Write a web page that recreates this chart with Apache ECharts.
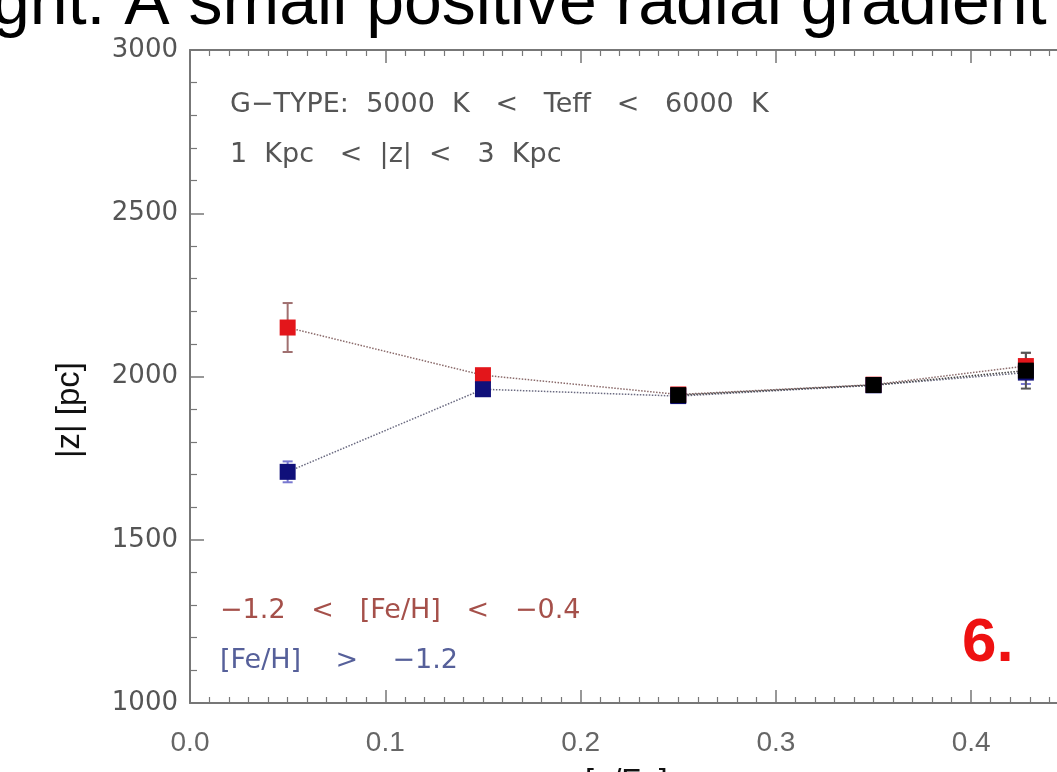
<!DOCTYPE html>
<html>
<head>
<meta charset="utf-8">
<style>html,body{margin:0;padding:0;background:#fff;}#c{width:1057px;height:772px;}</style>
<script src="https://cdn.jsdelivr.net/npm/echarts@6/dist/echarts.min.js"></script>
</head>
<body>
<div id="c"></div>
<script>
// ---- data ----
const xBins = [0.05, 0.15, 0.25, 0.35, 0.428];
const redZ = [2150, 2004, 1945, 1975, 2032];
const redErr = [75, 15, 12, 12, 40];
const blueZ = [1708, 1961, 1940, 1973, 2012];
const blueErr = [32, 14, 12, 12, 35];
const blackX = [0.25, 0.35, 0.428];
const blackZ = [1943, 1974, 2018];
const blackErr = [14, 12, 55];
const xTicks = [0.0, 0.1, 0.2, 0.3, 0.4, 0.5];
const yTicks = [1000, 1500, 2000, 2500, 3000];
const titleText = 'ght: A small positive radial gradient';
const yName = '|z| [pc]';
const xName = '[\u03b1/Fe]';
const note1 = 'G\u2212TYPE:  5000  K   <   Teff   <   6000  K';
const note2 = '1  Kpc   <  |z|  <   3  Kpc';
const noteRed = '\u22121.2   <   [Fe/H]   <   \u22120.4';
const noteBlue = '[Fe/H]    >    \u22121.2';
const panelNo = '6.';

const zip = (xs, ys) => xs.map((x, i) => [x, ys[i]]);
const zip3 = (xs, ys, es) => xs.map((x, i) => [x, ys[i], es[i]]);

function errRender(color) {
  return function (params, api) {
    const x = api.value(0), y = api.value(1), e = api.value(2);
    const t = api.coord([x, y + e]), b = api.coord([x, y - e]);
    const hw = 5;
    const st = { stroke: color, lineWidth: 2 };
    return {
      type: 'group',
      children: [
        { type: 'line', shape: { x1: t[0], y1: t[1], x2: b[0], y2: b[1] }, style: st },
        { type: 'line', shape: { x1: t[0] - hw, y1: t[1], x2: t[0] + hw, y2: t[1] }, style: st },
        { type: 'line', shape: { x1: b[0] - hw, y1: b[1], x2: b[0] + hw, y2: b[1] }, style: st }
      ]
    };
  };
}

const axisCol = '#777';
const chart = echarts.init(document.getElementById('c'), null, { renderer: 'canvas' });
const xBase = {
  type: 'value', min: xTicks[0], max: xTicks[xTicks.length - 1], interval: 0.1,
  axisLine: { show: true, onZero: false, lineStyle: { color: axisCol, width: 2 } },
  axisTick: { show: true, inside: true, length: 13, lineStyle: { color: axisCol, width: 1.5 } },
  minorTick: { show: true, splitNumber: 10, length: 6, lineStyle: { color: axisCol, width: 1.2 } },
  splitLine: { show: false }
};
const noteFont = "27px 'DejaVu Sans',sans-serif";
chart.setOption({
  animation: false,
  backgroundColor: '#fff',
  grid: { left: 190, top: 50, bottom: 69, right: -109.5, containLabel: false, outerBoundsMode: 'none' },
  xAxis: [
    Object.assign({}, xBase, {
      position: 'bottom',
      axisLabel: { show: true, margin: 26, color: '#666', fontSize: 28,
        fontFamily: "'Liberation Sans Narrow','Liberation Sans',sans-serif",
        formatter: v => v.toFixed(1) }
    }),
    Object.assign({}, xBase, { position: 'top', axisLabel: { show: false } })
  ],
  yAxis: {
    type: 'value', min: yTicks[0], max: yTicks[yTicks.length - 1], interval: 500,
    axisLine: { show: true, lineStyle: { color: axisCol, width: 2 } },
    axisTick: { show: true, inside: true, length: 14, lineStyle: { color: axisCol, width: 1.5 } },
    minorTick: { show: true, splitNumber: 5, length: 7, lineStyle: { color: axisCol, width: 1.2 } },
    splitLine: { show: false },
    axisLabel: { margin: 12, color: '#555', fontSize: 26, fontFamily: "'DejaVu Sans',sans-serif",
      formatter: v => String(v) }
  },
  series: [
    { type: 'custom', name: 'redErr', renderItem: errRender('#a07070'), data: zip3(xBins, redZ, redErr), encode: { x: 0, y: 1 }, z: 1 },
    { type: 'custom', name: 'blueErr', renderItem: errRender('#7878d0'), data: zip3(xBins, blueZ, blueErr), encode: { x: 0, y: 1 }, z: 1 },
    { type: 'custom', name: 'blackErr', renderItem: errRender('#555'), data: zip3(blackX, blackZ, blackErr), encode: { x: 0, y: 1 }, z: 1 },
    { type: 'line', name: 'red', data: zip(xBins, redZ), symbol: 'rect', symbolSize: 16,
      itemStyle: { color: '#e3161b' }, lineStyle: { color: '#8a6a6a', width: 1.5, type: 'dotted' }, z: 3 },
    { type: 'line', name: 'blue', data: zip(xBins, blueZ), symbol: 'rect', symbolSize: 16,
      itemStyle: { color: '#10107a' }, lineStyle: { color: '#6a6a80', width: 1.5, type: 'dotted' }, z: 4 },
    { type: 'line', name: 'black', data: zip(blackX, blackZ), symbol: 'rect', symbolSize: 16,
      itemStyle: { color: '#000' }, lineStyle: { color: '#444', width: 1.5, type: 'dotted' }, z: 5 }
  ],
  graphic: [
    { type: 'text', left: -8, top: -29, style: { text: titleText, fill: '#000', font: "68px 'Liberation Sans',Arial,sans-serif" } },
    { type: 'text', left: 230, top: 91, style: { text: note1, fill: '#555', font: noteFont } },
    { type: 'text', left: 230, top: 141, style: { text: note2, fill: '#555', font: noteFont } },
    { type: 'text', left: 220, top: 597, style: { text: noteRed, fill: '#a5504a', font: noteFont } },
    { type: 'text', left: 220, top: 647, style: { text: noteBlue, fill: '#56609a', font: noteFont } },
    { type: 'text', left: 962, top: 613, style: { text: panelNo, fill: '#ee1111', font: "bold 62px 'Liberation Sans',Arial,sans-serif" } },
    { type: 'text', x: 70, y: 410, rotation: Math.PI / 2, style: { text: yName, fill: '#111', align: 'center', verticalAlign: 'middle', font: "33px 'Liberation Sans',Arial,sans-serif" } },
    { type: 'text', left: 585, top: 766, style: { text: xName, fill: '#111', font: "32px 'Liberation Sans',Arial,sans-serif" } }
  ]
});
</script>
</body>
</html>
